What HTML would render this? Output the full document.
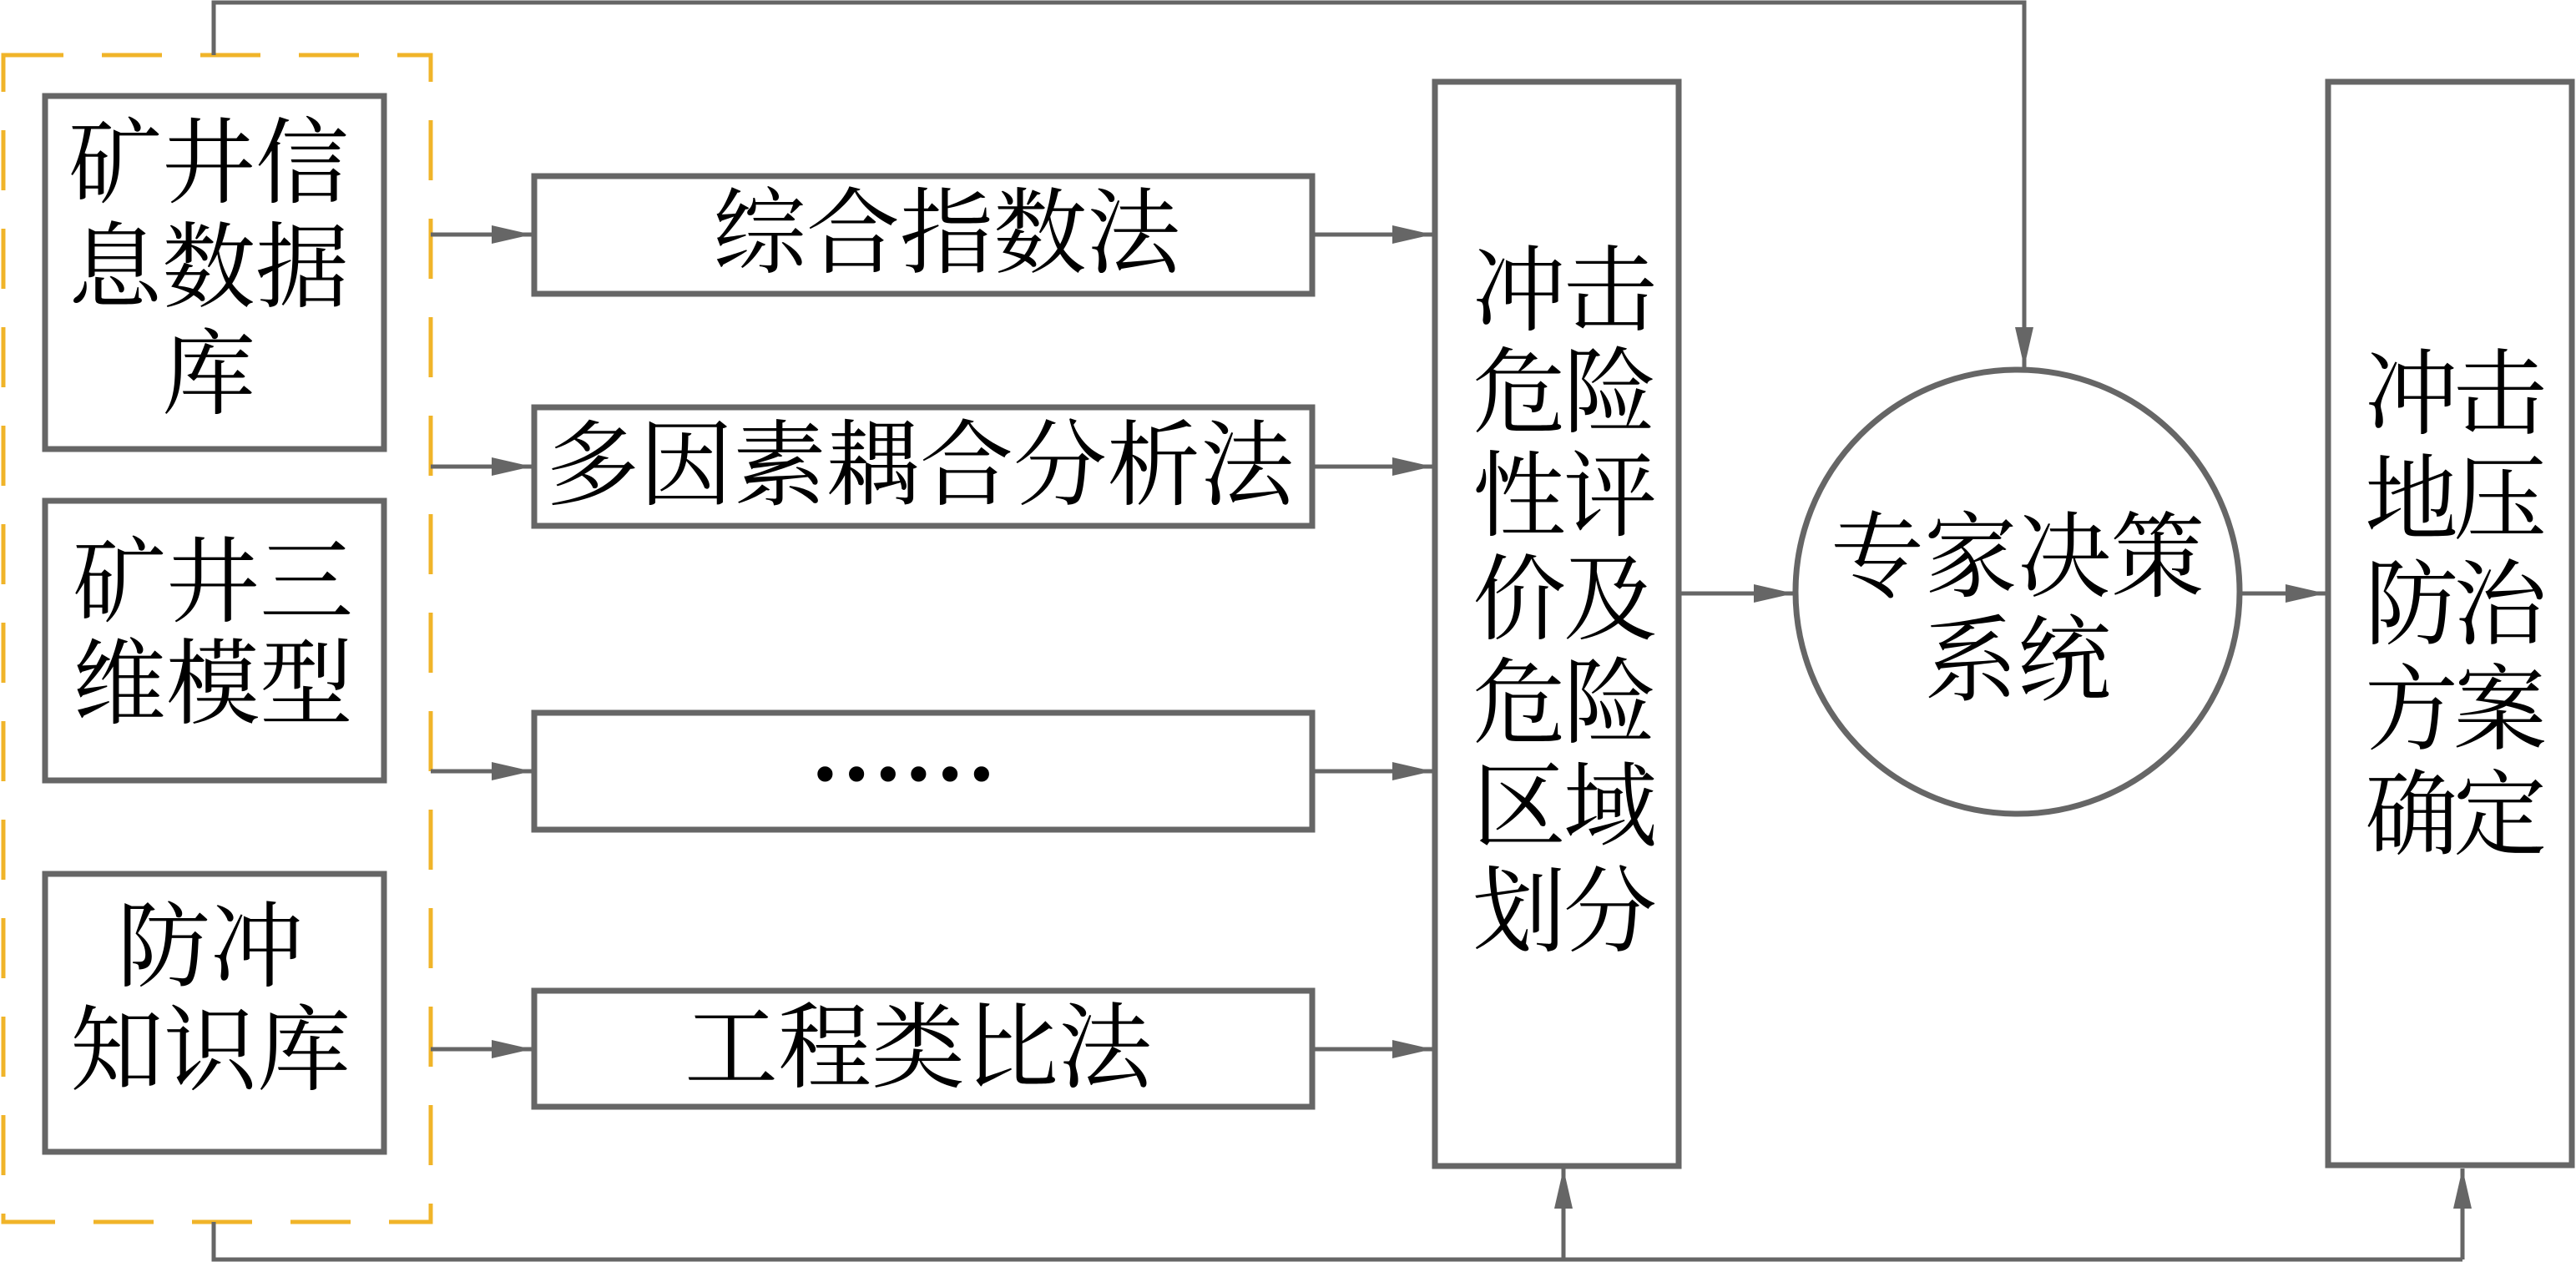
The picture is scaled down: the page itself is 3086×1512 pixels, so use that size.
<!DOCTYPE html>
<html><head><meta charset="utf-8"><style>
html,body{margin:0;padding:0;background:#fff;}
svg{display:block;}
text{font-family:"Liberation Serif","Noto Serif CJK SC",serif;font-size:112px;fill:#000;text-anchor:middle;dominant-baseline:central;}
</style></head><body>
<svg width="3086" height="1512" viewBox="0 0 3086 1512" xmlns="http://www.w3.org/2000/svg">
<defs>
<marker id="a" markerWidth="48" markerHeight="22" refX="48" refY="11" orient="auto" markerUnits="userSpaceOnUse">
<path d="M0,0 L48,11 L0,22 Z" fill="#666"/>
</marker>
</defs>
<rect x="4" y="66" width="512" height="1398" fill="none" stroke="#f0b429" stroke-width="5" stroke-dasharray="72,46"/>
<g fill="none" stroke="#666" stroke-width="7">
<rect x="54" y="115" width="406" height="423"/>
<rect x="54" y="600" width="406" height="335"/>
<rect x="54" y="1047" width="406" height="333"/>
<rect x="640" y="211" width="932" height="141"/>
<rect x="640" y="488" width="932" height="142"/>
<rect x="640" y="854" width="932" height="140"/>
<rect x="640" y="1187" width="932" height="139"/>
<rect x="1719" y="98" width="292" height="1299"/>
<rect x="2789" y="98" width="292" height="1298"/>
<circle cx="2417" cy="709" r="266"/>
</g>
<g fill="none" stroke="#666" stroke-width="5">
<polyline points="256,66 256,3 2425,3 2425,440" marker-end="url(#a)"/>
<polyline points="256,1464 256,1509 2950,1509"/>
<line x1="1873" y1="1509" x2="1873" y2="1400" marker-end="url(#a)"/>
<line x1="2950" y1="1509" x2="2950" y2="1400" marker-end="url(#a)"/>
<line x1="516" y1="281" x2="637" y2="281" marker-end="url(#a)"/>
<line x1="516" y1="559" x2="637" y2="559" marker-end="url(#a)"/>
<line x1="516" y1="924" x2="637" y2="924" marker-end="url(#a)"/>
<line x1="516" y1="1257" x2="637" y2="1257" marker-end="url(#a)"/>
<line x1="1572" y1="281" x2="1716" y2="281" marker-end="url(#a)"/>
<line x1="1572" y1="559" x2="1716" y2="559" marker-end="url(#a)"/>
<line x1="1572" y1="924" x2="1716" y2="924" marker-end="url(#a)"/>
<line x1="1572" y1="1257" x2="1716" y2="1257" marker-end="url(#a)"/>
<line x1="2011" y1="711" x2="2149" y2="711" marker-end="url(#a)"/>
<line x1="2683" y1="711" x2="2786" y2="711" marker-end="url(#a)"/>
</g>
<text x="250" y="197">矿井信</text>
<text x="250" y="322">息数据</text>
<text x="250" y="450">库</text>
<text x="255" y="699">矿井三</text>
<text x="255" y="821">维模型</text>
<text x="252" y="1136">防冲</text>
<text x="252" y="1260">知识库</text>
<text x="1134" y="281">综合指数法</text>
<text x="1102" y="559">多因素耦合分析法</text>
<text x="1082" y="898" style="font-weight:bold">……</text>
<text x="1100" y="1257">工程类比法</text>
<g>
<text x="1820" y="350">冲</text><text x="1929" y="350">击</text>
<text x="1820" y="472">危</text><text x="1929" y="472">险</text>
<text x="1820" y="596">性</text><text x="1929" y="596">评</text>
<text x="1820" y="720">价</text><text x="1929" y="720">及</text>
<text x="1820" y="844">危</text><text x="1929" y="844">险</text>
<text x="1820" y="968">区</text><text x="1929" y="968">域</text>
<text x="1820" y="1094">划</text><text x="1929" y="1094">分</text>
</g>
<text x="2417" y="669">专家决策</text>
<text x="2417" y="793">系统</text>
<g>
<text x="2889" y="474">冲</text><text x="2995" y="474">击</text>
<text x="2889" y="600">地</text><text x="2995" y="600">压</text>
<text x="2889" y="726">防</text><text x="2995" y="726">治</text>
<text x="2889" y="852">方</text><text x="2995" y="852">案</text>
<text x="2889" y="978">确</text><text x="2995" y="978">定</text>
</g>
</svg>
</body></html>
